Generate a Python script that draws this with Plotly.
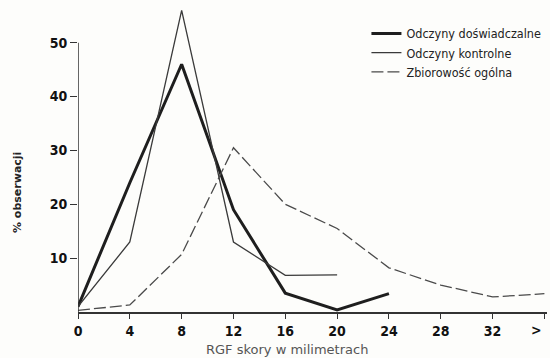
import plotly.graph_objects as go

x_vals = [0, 4, 8, 12, 16, 20, 24, 28, 32, 36]
tick_labels = ["0", "4", "8", "12", "16", "20", "24", "28", "32", ""]
last_label = ">"

exp_x = [0, 4, 8, 12, 16, 20, 24]
exp_y = [1, 24, 46, 19, 3.5, 0.4, 3.4]

ctrl_x = [0, 4, 8, 12, 16, 20]
ctrl_y = [1, 13, 56, 13, 6.8, 6.9]

gen_x = [0, 4, 8, 12, 16, 20, 24, 28, 32, 36]
gen_y = [0.3, 1.3, 10.7, 30.5, 20, 15.5, 8.2, 5, 2.8, 3.4]

y_ticks = [10, 20, 30, 40, 50]

names = ["Odczyny doświadczalne", "Odczyny kontrolne", "Zbiorowość ogólna"]

fig = go.Figure()
fig.add_trace(go.Scatter(x=exp_x, y=exp_y, mode="lines", name=names[0],
                         line=dict(color="#1e1e1e", width=3)))
fig.add_trace(go.Scatter(x=ctrl_x, y=ctrl_y, mode="lines", name=names[1],
                         line=dict(color="#3a3a3a", width=1.3)))
fig.add_trace(go.Scatter(x=gen_x, y=gen_y, mode="lines", name=names[2],
                         line=dict(color="#4a4a4a", width=1.3, dash="12px,4px")))

# y axis line from 0 to 50
fig.add_shape(type="line", xref="x", yref="y", x0=0, x1=0, y0=0, y1=50,
              line=dict(color="#333", width=1.5))

tickfont = dict(family="DejaVu Sans Condensed", size=14, color="#111", weight="bold")

fig.update_layout(
    width=550, height=358,
    margin=dict(l=78, r=3, t=5, b=46, autoexpand=False),
    paper_bgcolor="#fdfdfb", plot_bgcolor="#fdfdfb",
    showlegend=True,
    legend=dict(x=0.615, y=0.955, xanchor="left", yanchor="top",
                bgcolor="rgba(0,0,0,0)", font=dict(family="DejaVu Sans Condensed", size=12.5, color="#222"),
                tracegroupgap=0, itemwidth=30),
    xaxis=dict(range=[0, 36.2], tickvals=x_vals, ticktext=tick_labels, automargin=False,
               showgrid=False, zeroline=False, showline=True, linecolor="#333", linewidth=1.5,
               ticks="outside", ticklen=5, tickcolor="#333", tickfont=tickfont),
    yaxis=dict(range=[0, 57], tickvals=y_ticks, showgrid=False, zeroline=False, showline=False,
               automargin=False, ticks="outside", ticklen=7, tickcolor="#333", tickfont=tickfont),
)

fig.add_annotation(text=last_label, xref="x", yref="paper", x=36, y=0, yshift=-18,
                   xanchor="right", yanchor="middle", showarrow=False, font=tickfont)
fig.add_annotation(text="RGF skory w milimetrach", xref="paper", yref="paper",
                   x=0, xshift=209, y=0, yshift=-37, xanchor="center", yanchor="middle", showarrow=False,
                   font=dict(family="DejaVu Sans", size=13, color="#555"))
fig.add_annotation(text="% obserwacji", xref="paper", yref="paper",
                   x=0, xshift=-61, y=0, yshift=119, xanchor="center", yanchor="middle", showarrow=False,
                   textangle=-90, font=dict(family="DejaVu Sans", size=11, color="#222", weight="bold"))

fig.write_html("out.html", config={"displayModeBar": False},
               post_script="document.body.style.margin='0';")
